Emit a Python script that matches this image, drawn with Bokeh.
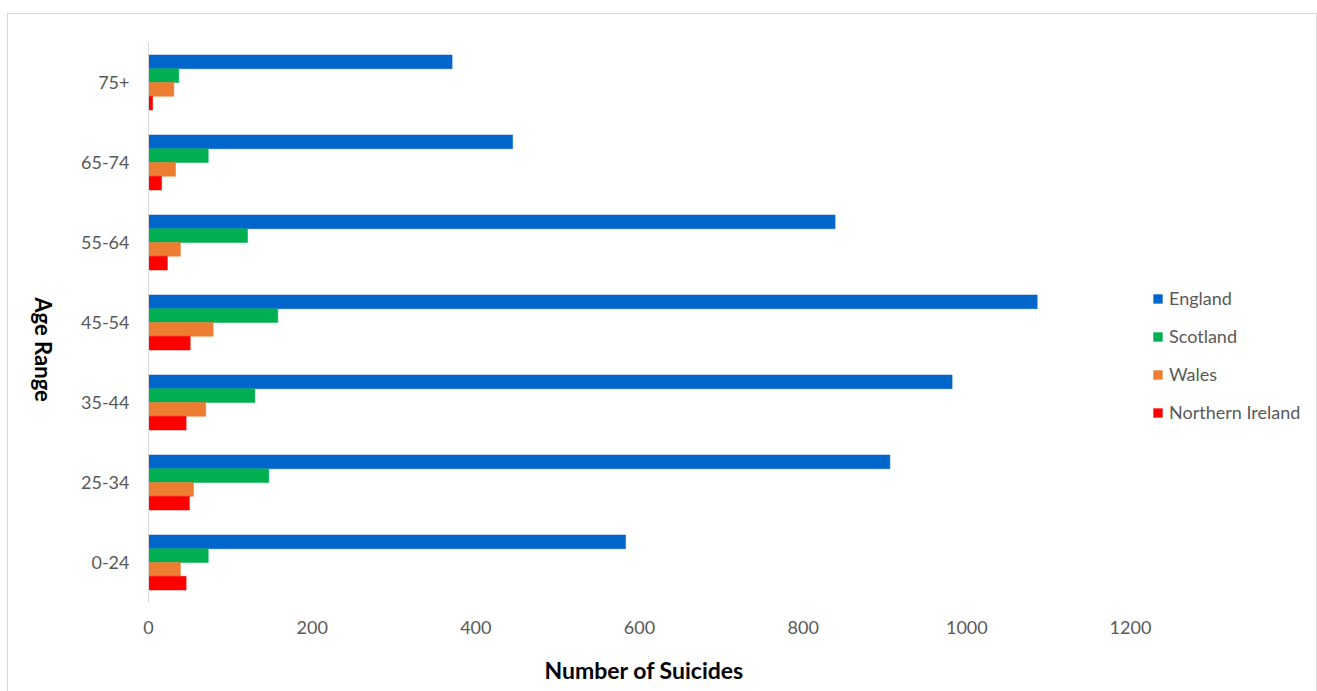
import math
from bokeh.plotting import figure
from bokeh.layouts import row
from bokeh.models import (FactorRange, Range1d, Legend, LegendItem, Label,
                          ColumnDataSource, FixedTicker, Title)
from bokeh.transform import dodge
from bokeh.embed import file_html
from bokeh.resources import INLINE

# ---- data ----
ages = ["0-24", "25-34", "35-44", "45-54", "55-64", "65-74", "75+"]
england = [583, 906, 982, 1086, 839, 445, 371]
scotland = [73, 147, 130, 158, 121, 73, 37]
wales = [39, 55, 70, 79, 39, 33, 31]
northern_ireland = [46, 50, 46, 51, 23, 16, 5]
series_names = ["England", "Scotland", "Wales", "Northern Ireland"]
series_colors = ["#0066CC", "#00B050", "#ED7D31", "#FF0000"]
x_ticks = [0, 200, 400, 600, 800, 1000, 1200]

src = ColumnDataSource(dict(age=ages, england=england, scotland=scotland,
                            wales=wales, ni=northern_ireland))

FONT = "Lato"
GREY = "#595959"

# layout constants (pixels)
FIG_H = 677
LEFT_W = 70
AXIS_PX = 982          # pixels spanned by 0..1200 on the value axis
FRAME_W = 1162         # frame also holds the legend area on the right
x_end = 1200 * FRAME_W / AXIS_PX

# ---- small strip on the left holding the rotated axis title ----
lf = figure(width=LEFT_W, height=FIG_H, x_range=Range1d(0, 1),
            y_range=Range1d(0, 1), output_backend="svg",
            toolbar_location=None, x_axis_type=None, y_axis_type=None,
            min_border=0)
lf.outline_line_color = None
lf.xgrid.grid_line_color = None
lf.ygrid.grid_line_color = None
lf.add_layout(Label(x=0.5, y=0.4427, text="Age Range", angle=-math.pi / 2,
                    text_align="center", text_baseline="middle",
                    text_font=FONT, text_font_style="bold",
                    text_font_size="22px", text_color="black"))

# ---- main chart ----
p = figure(frame_width=FRAME_W, frame_height=560,
           y_range=FactorRange(factors=ages), x_range=Range1d(0, x_end),
           output_backend="svg", toolbar_location=None,
           min_border_left=70, min_border_right=6,
           min_border_top=28, min_border_bottom=89)
p.outline_line_color = None
p.xgrid.grid_line_color = None
p.ygrid.grid_line_color = None
p.background_fill_color = "white"
p.border_fill_color = "white"

bar_h = 0.172
offsets = [1.5 * bar_h, 0.5 * bar_h, -0.5 * bar_h, -1.5 * bar_h]
cols = ["england", "scotland", "wales", "ni"]
renderers = []
for col, off, color in zip(cols, offsets, series_colors):
    r = p.hbar(y=dodge("age", off, range=p.y_range), right=col, left=0,
               height=bar_h, source=src, fill_color=color, line_color=color,
               line_width=0.5)
    renderers.append(r)

# x axis
xa = p.xaxis[0]
xa.ticker = FixedTicker(ticks=x_ticks)
xa.axis_line_color = None
xa.major_tick_line_color = None
xa.minor_tick_line_color = None
xa.major_tick_out = 0
xa.major_tick_in = 0
xa.major_label_standoff = 18
xa.major_label_text_font = FONT
xa.major_label_text_font_size = "18px"
xa.major_label_text_color = GREY

p.add_layout(Title(text="Number of Suicides", align="left", offset=396,
                   text_font=FONT, text_font_style="bold",
                   text_font_size="23px", text_color="black",
                   standoff=34), "below")

# y axis
ya = p.yaxis[0]
ya.axis_line_color = "#d9d9d9"
ya.axis_line_width = 1
ya.major_tick_line_color = None
ya.minor_tick_line_color = None
ya.major_tick_out = 0
ya.major_tick_in = 0
ya.major_label_standoff = 19
ya.major_label_text_font = FONT
ya.major_label_text_font_size = "18px"
ya.major_label_text_color = GREY

legend = Legend(items=[LegendItem(label=n, renderers=[r])
                       for n, r in zip(series_names, renderers)],
                location=(1004, 179), orientation="vertical",
                glyph_width=11, glyph_height=11, label_standoff=6,
                spacing=16, padding=0, margin=0,
                border_line_color=None, background_fill_alpha=0,
                label_text_font=FONT, label_text_font_size="18px",
                label_text_color=GREY)
p.add_layout(legend)

layout = row(lf, p)
layout.margin = (13, 0, 0, 7)
layout.styles = {"border": "1px solid #d9d9d9"}

open("out.html", "w").write(file_html(layout, INLINE))
